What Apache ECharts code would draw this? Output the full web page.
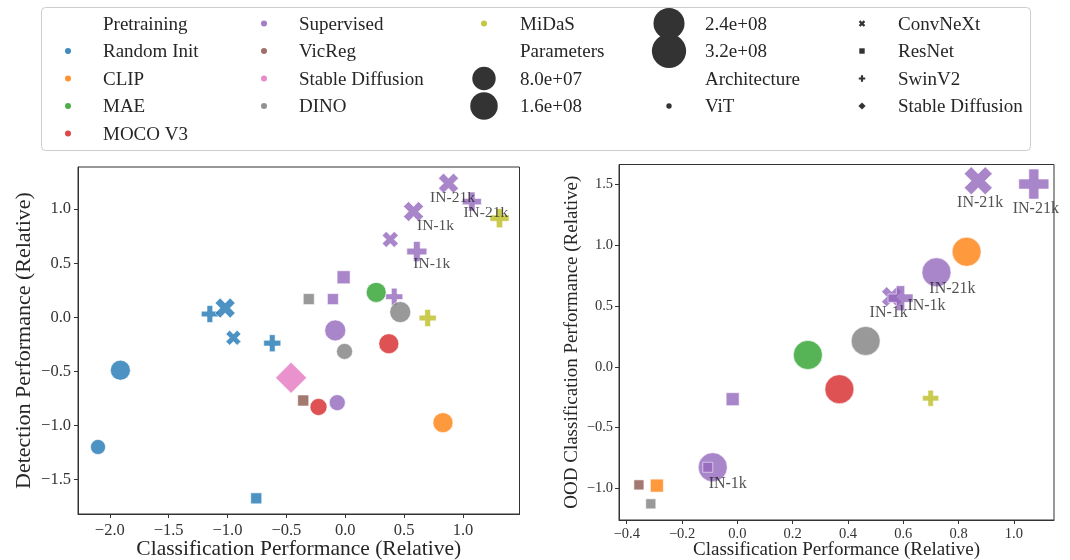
<!DOCTYPE html>
<html><head><meta charset="utf-8">
<script src="https://cdn.jsdelivr.net/npm/echarts@6/dist/echarts.min.js"></script>
<style>html,body{margin:0;padding:0;background:#fff}#c{width:1070px;height:560px}</style>
</head><body><div id="c"></div>
<script>
// ---------- categories ----------
const pretrainings = ['Random Init','CLIP','MAE','MOCO V3','Supervised','VicReg','Stable Diffusion','DINO','MiDaS'];
const architectures = ['ViT','ConvNeXt','ResNet','SwinV2','Stable Diffusion'];
const paramLegend = [8.0e7, 1.6e8, 2.4e8, 3.2e8];

// ---------- left plot: detection vs classification ----------
const detPretrain = ['Random Init','Random Init','Random Init','Random Init','Random Init','Random Init','Random Init',
  'CLIP','MAE','MOCO V3','MOCO V3',
  'Supervised','Supervised','Supervised','Supervised','Supervised','Supervised','Supervised','Supervised','Supervised','Supervised',
  'VicReg','Stable Diffusion','DINO','DINO','DINO','MiDaS','MiDaS'];
const detArch = ['ViT','ViT','ResNet','SwinV2','ConvNeXt','ConvNeXt','SwinV2',
  'ViT','ViT','ViT','ViT',
  'ViT','ViT','ResNet','ResNet','ConvNeXt','ConvNeXt','ConvNeXt','SwinV2','SwinV2','SwinV2',
  'ResNet','Stable Diffusion','ViT','ViT','ResNet','SwinV2','SwinV2'];
const detClassification = [-1.91,-2.10,-0.756,-1.15,-1.02,-0.95,-0.62,
  0.83,0.263,-0.227,0.37,
  -0.068,-0.085,-0.014,-0.105,0.382,0.58,0.877,0.416,0.608,1.075,
  -0.357,-0.46,-0.006,0.467,-0.31,0.70,1.31];
const detDetection = [-0.49,-1.20,-1.675,0.03,0.085,-0.19,-0.24,
  -0.975,0.23,-0.83,-0.245,
  -0.79,-0.122,0.37,0.168,0.72,0.978,1.24,0.19,0.608,1.07,
  -0.77,-0.56,-0.316,0.048,0.168,-0.007,0.917];
const detParams = [156,88,47,113,156,88,113,
  156,156,113,156,
  100,172,66,47,100,156,156,113,156,141,
  47,189,100,172,47,113,141]; // millions
const detNote = ['','','','','','','',
  '','','','',
  '','','','','','IN-1k','IN-21k','','IN-1k','IN-21k',
  '','','','','','',''];

// ---------- right plot: OOD classification vs classification ----------
const oodPretrain = ['CLIP','CLIP','MAE','MOCO V3','Supervised','Supervised','Supervised','Supervised',
  'Supervised','Supervised','Supervised','Supervised','VicReg','DINO','DINO','MiDaS'];
const oodArch = ['ViT','ResNet','ViT','ViT','ViT','ViT','ResNet','ResNet',
  'ConvNeXt','ConvNeXt','SwinV2','SwinV2','ResNet','ViT','ResNet','SwinV2'];
const oodClassification = [0.829,-0.291,0.255,0.369,0.72,-0.089,-0.017,-0.107,
  0.558,0.871,0.59,1.072,-0.356,0.464,-0.313,0.699];
const oodOOD = [0.947,-0.977,0.098,-0.184,0.778,-0.826,-0.266,-0.826,
  0.577,1.531,0.565,1.504,-0.971,0.213,-1.127,-0.258];
const oodParams = [210,42,210,210,210,210,42,25,
  100,196,156,225,25,210,25,64]; // millions
const oodNote = ['','','','','IN-21k','IN-1k','','',
  'IN-1k','IN-21k','IN-1k','IN-21k','','','',''];

// ---------- tick labels ----------
const detXTicks = [-2.0,-1.5,-1.0,-0.5,0.0,0.5,1.0];
const detYTicks = [-1.5,-1.0,-0.5,0.0,0.5,1.0];
const oodXTicks = [-0.4,-0.2,0.0,0.2,0.4,0.6,0.8,1.0];
const oodYTicks = [-1.0,-0.5,0.0,0.5,1.0,1.5];

// ---------- styles ----------
const colorOf = {'Random Init':'#1f77b4','CLIP':'#ff7f0e','MAE':'#2ca02c','MOCO V3':'#d62728','Supervised':'#9467bd',
  'VicReg':'#8c564b','Stable Diffusion':'#e377c2','DINO':'#7f7f7f','MiDaS':'#bcbd22'};
const PLUS = 'path://M-1,-3L1,-3L1,-1L3,-1L3,1L1,1L1,3L-1,3L-1,1L-3,1L-3,-1L-1,-1Z';
const XMARK = 'path://M-1,-2L0,-1L1,-2L2,-1L1,0L2,1L1,2L0,1L-1,2L-2,1L-1,0L-2,-1Z';
const symbolOf = {'ViT':'circle','ConvNeXt':XMARK,'ResNet':'rect','SwinV2':PLUS,'Stable Diffusion':'diamond'};
const FONT = "'Liberation Serif','DejaVu Serif',serif";
const TXT = '#262626';
// label offsets (px) for annotated points
const detNoteOffset = {16:[22,14],17:[4,15],19:[15,12],20:[14,11]};
const oodNoteOffset = {4:[16,16],5:[15,17],8:[-3,16],9:[2,22],10:[26,8],11:[2,25]};

function markerSize(arch, d){ return arch==='Stable Diffusion' ? d*1.41 : d; }

function pointSeries(xi, yi, pre, arch, xs, ys, ps, k){
  return {
    type:'scatter', xAxisIndex:xi, yAxisIndex:yi, z:2, silent:true,
    data: xs.map((x,i)=>({
      value:[x, ys[i], ps[i]],
      symbol: symbolOf[arch[i]],
      symbolSize: markerSize(arch[i], k*Math.sqrt(ps[i])),
      itemStyle:{color:colorOf[pre[i]], opacity:0.8, borderColor:'#ffffff', borderWidth:0.7}
    }))
  };
}
function noteSeries(xi, yi, xs, ys, notes, offs, fs){
  const data=[];
  notes.forEach((n,i)=>{ if(n){ data.push({value:[xs[i],ys[i]], label:{show:true, formatter:n, position:'inside',
    offset:offs[i]||[0,14], align:'center', verticalAlign:'middle', fontFamily:FONT, fontSize:fs, color:TXT}}); }});
  return {type:'scatter', xAxisIndex:xi, yAxisIndex:yi, z:5, silent:true, symbol:'circle', symbolSize:0.1,
    itemStyle:{color:'rgba(0,0,0,0)'}, data};
}
const fmt = v => (v<0?'\u2212':'') + Math.abs(v).toFixed(1);

function valueAxis(grid, min, max, ticks, fs, margin, name, nameFs, nameGap, rotateName){
  return {
    type:'value', gridIndex:grid, min, max, scale:true,
    name, nameLocation:'middle', nameGap, nameRotate: rotateName?90:0, nameMoveOverlap:false,
    nameTextStyle:{fontFamily:FONT, fontSize:nameFs, color:TXT},
    axisLine:{show:true, onZero:false, lineStyle:{color:'#333', width:1}},
    axisTick:{show:true, inside:false, length:4, lineStyle:{color:'#333'}, customValues:ticks},
    axisLabel:{show:true, margin, fontFamily:FONT, fontSize:fs, color:'#333', formatter:fmt, customValues:ticks},
    splitLine:{show:false}
  };
}

// ---------- legend (graphic) ----------
function fmtExp(v){ const [m,e]=v.toExponential(1).split('e'); const s=e[0]==='-'?'-':'+'; const n=Math.abs(+e); return m+'e'+s+(n<10?'0':'')+n; }
const legendEntries = [{t:'Pretraining'}]
  .concat(pretrainings.map(p=>({t:p, kind:'dot', color:colorOf[p]})))
  .concat([{t:'Parameters'}])
  .concat(paramLegend.map(v=>({t:fmtExp(v), kind:'size', v})))
  .concat([{t:'Architecture'}])
  .concat(architectures.map(a=>({t:a, kind:'arch', a})));
const colMarkX = [68,264,484,669,862], colTextX = [103,299,520,705,898];
const colCounts = [5,4,4,4,4];
const rowY0 = 25, rowDY = 27.5;
function polyPts(path, cx, cy, s){
  const nums = path.replace('path://','').match(/-?\d+(\.\d+)?/g).map(Number);
  let mx=0; for(const n of nums) mx=Math.max(mx,Math.abs(n));
  const pts=[]; for(let i=0;i<nums.length;i+=2) pts.push([cx+nums[i]/mx*s/2, cy+nums[i+1]/mx*s/2]);
  return pts;
}
const graphics = [{type:'rect', shape:{x:41.5,y:7.5,width:989,height:143,r:4}, style:{fill:'#fff', stroke:'#cccccc', lineWidth:1}, z:0}];
{
  let idx=0;
  colCounts.forEach((cnt,c)=>{
    for(let r=0;r<cnt;r++,idx++){
      const e=legendEntries[idx]; if(!e) continue;
      const y=rowY0+r*rowDY, mx=colMarkX[c];
      if(e.kind==='dot') graphics.push({type:'circle', shape:{cx:mx,cy:y-1.5,r:3}, style:{fill:e.color, opacity:0.85}, z:2});
      if(e.kind==='size') graphics.push({type:'circle', shape:{cx:mx,cy:y-1.5,r:Math.sqrt(340+2.6*e.v/1e6)/2}, style:{fill:'#333'}, z:2});
      if(e.kind==='arch'){
        const s=symbolOf[e.a], yy=y-1.5;
        if(s==='circle') graphics.push({type:'circle', shape:{cx:mx,cy:yy,r:2.7}, style:{fill:'#333'}, z:2});
        else if(s==='rect') graphics.push({type:'rect', shape:{x:mx-2.7,y:yy-2.7,width:5.4,height:5.4}, style:{fill:'#333'}, z:2});
        else if(s==='diamond') graphics.push({type:'polygon', shape:{points:[[mx,yy-3.6],[mx+3.6,yy],[mx,yy+3.6],[mx-3.6,yy]]}, style:{fill:'#333'}, z:2});
        else graphics.push({type:'polygon', shape:{points:polyPts(s,mx,yy,6.5)}, style:{fill:'#333'}, z:2});
      }
      graphics.push({type:'text', x:colTextX[c], y:y, style:{text:e.t, font:"19px "+FONT, fill:TXT, textVerticalAlign:'middle', verticalAlign:'middle'}, z:2});
    }
  });
}

const chart = echarts.init(document.getElementById('c'), null, {renderer:'canvas'});
chart.setOption({
  animation:false,
  backgroundColor:'#ffffff',
  grid:[
    {left:78, top:167, width:441.5, height:347, show:true, borderColor:'#333', borderWidth:1, backgroundColor:'transparent', containLabel:false, outerBoundsMode:'none'},
    {left:619, top:164.5, width:435, height:355.5, show:true, borderColor:'#333', borderWidth:1, backgroundColor:'transparent', containLabel:false, outerBoundsMode:'none'}
  ],
  xAxis:[
    valueAxis(0,-2.27,1.48,detXTicks,16.5,8,'Classification Performance (Relative)',21.5,24,false),
    valueAxis(1,-0.428,1.145,oodXTicks,14.5,7,'Classification Performance (Relative)',19,21,false)
  ],
  yAxis:[
    valueAxis(0,-1.82,1.39,detYTicks,16.5,7,'Detection Performance (Relative)',22,43,true),
    valueAxis(1,-1.26,1.665,oodYTicks,14.5,6,'OOD Classification Performance (Relative)',19,37,true)
  ],
  graphic: graphics,
  series:[
    pointSeries(0,0,detPretrain,detArch,detClassification,detDetection,detParams,1.6),
    noteSeries(0,0,detClassification,detDetection,detNote,detNoteOffset,15.5),
    pointSeries(1,1,oodPretrain,oodArch,oodClassification,oodOOD,oodParams,2.0),
    noteSeries(1,1,oodClassification,oodOOD,oodNote,oodNoteOffset,16)
  ]
});
</script></body></html>
